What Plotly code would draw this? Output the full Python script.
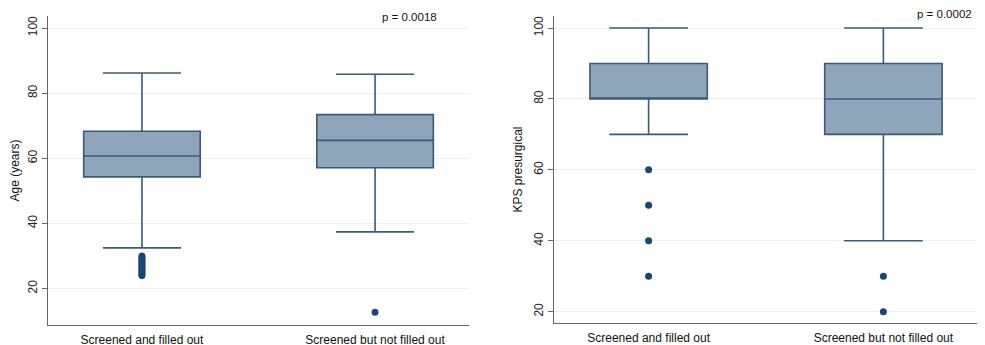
import plotly.graph_objects as go

categories = ["Screened and filled out", "Screened but not filled out"]

# Panel 1: Age (years)
age_q1 = [54.3, 57.1]
age_median = [60.7, 65.5]
age_q3 = [68.3, 73.4]
age_lower = [32.5, 37.4]
age_upper = [86.2, 85.8]
age_outliers = [[24, 24.5, 25, 25.5, 26, 26.5, 27, 27.5, 28, 28.5, 29, 29.5, 30], [12.7]]
age_p = "p = 0.0018"

# Panel 2: KPS presurgical
kps_q1 = [80, 70]
kps_median = [80, 80]
kps_q3 = [90, 90]
kps_lower = [70, 40]
kps_upper = [100, 100]
kps_outliers = [[60, 50, 40, 30], [30, 20]]
kps_p = "p = 0.0002"

yticks = [20, 40, 60, 80, 100]

FILL = "#8FA5BA"
LINE = "#3A5A7C"
MARK = "#1A4676"
FONT = "Liberation Sans, Arial, sans-serif"

fig = go.Figure()

def add_panel(xa, ya, q1, med, q3, lo, hi, outs):
    fig.add_trace(go.Box(
        x=[0, 1], q1=q1, median=med, q3=q3, lowerfence=lo, upperfence=hi,
        xaxis=xa, yaxis=ya, width=0.5, whiskerwidth=0.67,
        fillcolor=FILL, line=dict(color=LINE, width=1.6),
        boxpoints=False, showlegend=False, hoverinfo="skip"))
    for i, vals in enumerate(outs):
        fig.add_trace(go.Scatter(
            x=[i] * len(vals), y=vals, mode="markers", xaxis=xa, yaxis=ya,
            marker=dict(color=MARK, size=7), showlegend=False, hoverinfo="skip"))

add_panel("x", "y", age_q1, age_median, age_q3, age_lower, age_upper, age_outliers)
add_panel("x2", "y2", kps_q1, kps_median, kps_q3, kps_lower, kps_upper, kps_outliers)

# page offset of the plot div (default body margin)
OFF = 8
W, H = 985 - OFF, 345 - OFF

def px_x(p):
    return (p - OFF) / W

def px_y(p):
    return 1 - (p - OFF) / H

xcommon = dict(tickmode="array", tickvals=[0, 1], ticktext=categories,
               range=[-0.403, 1.403], showgrid=False, zeroline=False,
               showline=True, linecolor="#666666", linewidth=1.2,
               ticks="", automargin=False, ticklabelstandoff=3,
               tickfont=dict(size=12, color="#111111", family=FONT))
ycommon = dict(tickmode="array", tickvals=yticks, showgrid=True,
               gridcolor="#EAF1F1", gridwidth=1, zeroline=False,
               showline=True, linecolor="#666666", linewidth=1.2,
               ticks="outside", ticklen=5, tickcolor="#666666", automargin=False,
               tickangle=-90, tickfont=dict(size=12, color="#222222", family=FONT),
               title_font=dict(size=12, color="#111111", family=FONT))

fig.update_layout(
    width=W, height=H,
    margin=dict(l=0, r=0, t=0, b=0),
    paper_bgcolor="white", plot_bgcolor="white",
    xaxis=dict(domain=[px_x(48), px_x(469)], anchor="y", **xcommon),
    yaxis=dict(domain=[px_y(325), px_y(16)], anchor="x",
               range=[8.8, 103.7], title=dict(text="Age (years)", standoff=4), **ycommon),
    xaxis2=dict(domain=[px_x(554), px_x(978)], anchor="y2", **xcommon),
    yaxis2=dict(domain=[px_y(323), px_y(16)], anchor="x2",
                range=[16.8, 103.4], title=dict(text="KPS presurgical", standoff=6), **ycommon),
    annotations=[
        dict(text=age_p, x=px_x(409), y=px_y(17), xref="paper", yref="paper",
             yanchor="middle", xanchor="center",
             showarrow=False, font=dict(size=11.5, color="#111111", family=FONT)),
        dict(text=kps_p, x=px_x(974), y=px_y(14), xref="paper", yref="paper",
             yanchor="middle", xanchor="right",
             showarrow=False, font=dict(size=11.5, color="#111111", family=FONT)),
    ],
)

fig.write_html("out.html")
